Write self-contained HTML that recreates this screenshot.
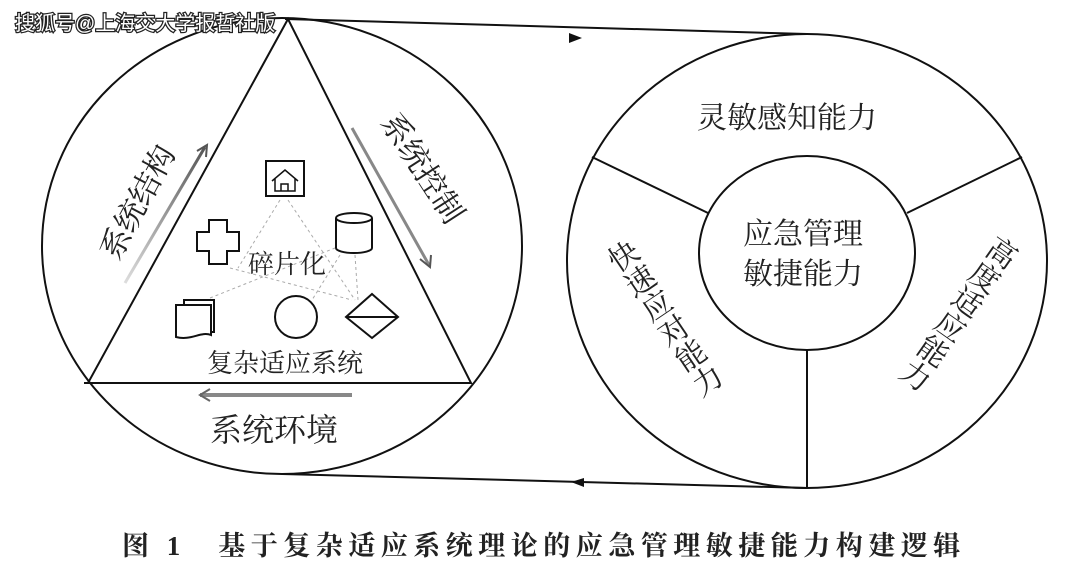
<!DOCTYPE html>
<html><head><meta charset="utf-8"><style>
body{margin:0;background:#fff;}
svg text{font-family:"Liberation Serif","Noto Serif CJK SC","Noto Sans CJK SC",serif;fill:#222;}
</style></head><body>
<svg width="1080" height="576" viewBox="0 0 1080 576" xmlns="http://www.w3.org/2000/svg">
<defs>
<linearGradient id="gu" x1="0" y1="1" x2="0" y2="0"><stop offset="0" stop-color="#ddd"/><stop offset="1" stop-color="#555"/></linearGradient>
</defs>
<g fill="none" stroke="#111" stroke-width="2">
<ellipse cx="282" cy="246" rx="240" ry="228"/>
<polygon points="288,19 88,383 471,383"/>
<line x1="84" y1="383" x2="471" y2="383"/>
<ellipse cx="807" cy="261" rx="240" ry="227"/>
<ellipse cx="807" cy="253" rx="108" ry="97"/>
<line x1="592" y1="157" x2="708" y2="213"/>
<line x1="1022" y1="157" x2="907" y2="213"/>
<line x1="807" y1="350" x2="807" y2="488"/>
<line x1="285" y1="19" x2="807" y2="34"/>
<line x1="282" y1="474" x2="807" y2="488"/>
</g>
<polygon points="569,33 582,38 569,43" fill="#111"/>
<polygon points="584,478 571,482 584,487" fill="#111"/>
<line x1="125" y1="283" x2="205" y2="147" stroke="url(#gu)" stroke-width="3"/>
<polyline points="197,151 207,145 206,157" fill="none" stroke="#555" stroke-width="2"/>
<line x1="352" y1="128" x2="429" y2="265" stroke="#888" stroke-width="3"/>
<polyline points="420,259 430,267 431,255" fill="none" stroke="#555" stroke-width="2"/>
<rect x="200" y="393" width="152" height="4" fill="#888"/>
<polyline points="210,389 200,395 210,401" fill="none" stroke="#666" stroke-width="2"/>
<g stroke="#aaa" stroke-dasharray="3,3" stroke-width="1" fill="none">
<line x1="280" y1="200" x2="238" y2="268"/><line x1="288" y1="200" x2="355" y2="300"/>
<line x1="230" y1="268" x2="352" y2="300"/><line x1="210" y1="298" x2="335" y2="248"/>
<line x1="340" y1="255" x2="312" y2="300"/><line x1="355" y1="255" x2="358" y2="300"/>
</g>
<g fill="#fff" stroke="#111" stroke-width="2">
<rect x="266" y="161" width="38" height="35"/>
<path d="M272,181 L285,170 L298,181 M275,179 V191 H295 V179 M281,191 V184 H288 V191" fill="none" stroke-width="1.5"/>
<path d="M197,232 h12 v-12 h18 v12 h12 v19 h-12 v13 h-18 v-13 h-12 z"/>
<path d="M336,218 v30 a18,5 0 0 0 36,0 v-30"/>
<ellipse cx="354" cy="218" rx="18" ry="5"/>
<rect x="184" y="300" width="30" height="32"/>
<path d="M176,305 h35 v30 c-10,-4 -20,6 -35,2 z"/>
<circle cx="296" cy="317" r="21"/>
<polygon points="372,294 398,317 372,338 346,317"/>
<line x1="346" y1="317" x2="398" y2="317"/>
</g>
<g font-size="25">
<text x="248" y="273" font-size="26">碎片化</text>
<text x="207" y="372" font-size="26">复杂适应系统</text>
<text x="210" y="441" font-size="32">系统环境</text>
<text transform="translate(118,262) rotate(-62)" font-size="31">系统结构</text>
<text transform="translate(380,122) rotate(57)" font-size="31">系统控制</text>
<text x="697" y="128" font-size="30">灵敏感知能力</text>
<text x="743" y="244" font-size="30">应急管理</text>
<text x="743" y="284" font-size="30">敏捷能力</text>
<text transform="translate(612,245) rotate(-34)" font-size="30" style="writing-mode:vertical-rl">快速应对能力</text>
<text transform="translate(1008,238) rotate(35)" font-size="30" style="writing-mode:vertical-rl">高度适应能力</text>
</g>
<text x="122" y="555" font-size="27" font-weight="bold" letter-spacing="5.5">图 1　基于复杂适应系统理论的应急管理敏捷能力构建逻辑</text>
<text x="15" y="30" font-size="20" style="font-family:'Liberation Sans','Noto Sans CJK SC',sans-serif;fill:#fff;stroke:#222;stroke-width:2.5;paint-order:stroke">搜狐号@上海交大学报哲社版</text>
</svg>
</body></html>
